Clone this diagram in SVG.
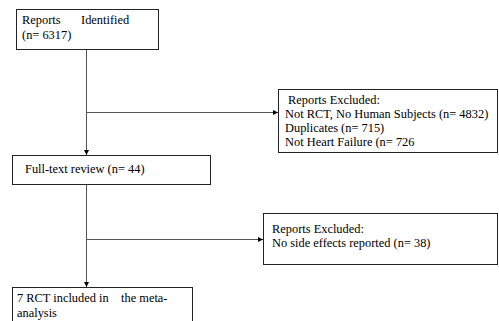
<svg xmlns="http://www.w3.org/2000/svg" width="499" height="321" viewBox="0 0 499 321">
<style>
.box{fill:#fff;stroke:#222;stroke-width:1}
.t{font-family:"Liberation Serif",serif;font-size:12.4px;fill:#000;white-space:pre}
.ln{stroke:#555;stroke-width:1;fill:none}
</style>
<defs>
<marker id="ah" markerWidth="6" markerHeight="6" refX="5" refY="3" orient="auto" markerUnits="userSpaceOnUse">
<path d="M0,0.5 L5,3 L0,5.5 Z" fill="#000"/>
</marker>
</defs>
<rect width="499" height="321" fill="#fff"/>
<g id="connectors">
<path class="ln" d="M86.5,49 V155" marker-end="url(#ah)"/>
<path class="ln" d="M86.5,112.5 H278" marker-end="url(#ah)"/>
<path class="ln" d="M86.5,184 V287" marker-end="url(#ah)"/>
<path class="ln" d="M86.5,239.5 H263" marker-end="url(#ah)"/>
</g>
<g id="n1">
<rect class="box" x="16.5" y="9.5" width="142" height="40"/>
<text class="t" x="22" y="24">Reports</text>
<text class="t" x="81" y="24">Identified</text>
<text class="t" x="22" y="39">(n= 6317)</text>
</g>
<g id="n2">
<rect class="box" x="278.5" y="89.5" width="219" height="63"/>
<text class="t" x="288" y="104">Reports Excluded:</text>
<text class="t" x="285" y="118">Not RCT, No Human Subjects (n= 4832)</text>
<text class="t" x="285" y="132">Duplicates (n= 715)</text>
<text class="t" x="285" y="146">Not Heart Failure (n= 726</text>
</g>
<g id="n3">
<rect class="box" x="12.5" y="155.5" width="198" height="29"/>
<text class="t" x="25" y="173">Full-text review (n= 44)</text>
</g>
<g id="n4">
<rect class="box" x="263.5" y="213.5" width="234" height="51"/>
<text class="t" x="272" y="233">Reports Excluded:</text>
<text class="t" x="272" y="247">No side effects reported (n= 38)</text>
</g>
<g id="n5">
<rect class="box" x="12.5" y="287.5" width="180" height="40"/>
<text class="t" x="17" y="302" xml:space="preserve">7 RCT included in    the meta-</text>
<text class="t" x="17" y="317">analysis</text>
</g>
</svg>
